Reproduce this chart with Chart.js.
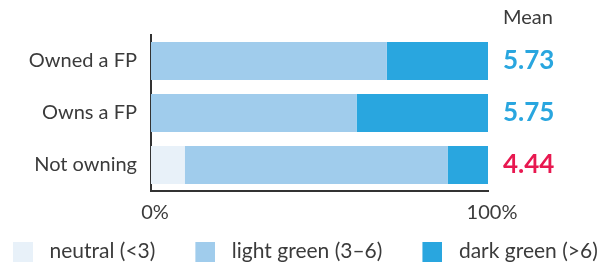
<!DOCTYPE html>
<html><head><meta charset="utf-8">
<script src="https://cdn.jsdelivr.net/npm/chart.js@4/dist/chart.umd.min.js"></script>
<style>html,body{margin:0;padding:0;background:#fff;overflow:hidden}</style>
</head><body>
<canvas id="c" width="606" height="265"></canvas>
<script>
const categories = ['Owned a FP', 'Owns a FP', 'Not owning'];
const seriesNames = ['neutral (<3)', 'light green (3–6)', 'dark green (>6)'];
const neutralShare = [0, 0, 10];
const lightShare = [70, 61, 78];
const darkShare = [30, 39, 12];
const meanLabels = ['5.73', '5.75', '4.44'];
const meanTitle = 'Mean';
const xTickValues = [0, 100];

const seriesColors = ['#e8f1f9', '#a0ccec', '#29a6df'];
const meanColors = ['#29a6df', '#29a6df', '#e81850'];
const textColor = '#3b3b3b';
const axisColor = '#333333';
const FONT = 'Lato';

function legendSwatch(color) {
  const c = document.createElement('canvas');
  c.width = 44; c.height = 20;
  const g = c.getContext('2d');
  g.fillStyle = color;
  g.fillRect(24, 0, 20, 20);
  return c;
}

const meanTitlePlugin = {
  id: 'meanTitle',
  afterDraw(chart) {
    const s = chart.scales.yMean;
    const ctx = chart.ctx;
    ctx.save();
    ctx.font = '20px ' + FONT;
    ctx.fillStyle = textColor;
    ctx.textAlign = 'left';
    ctx.textBaseline = 'middle';
    ctx.fillText(meanTitle, s.left + s.options.ticks.padding, chart.chartArea.top - 17);
    ctx.restore();
  }
};

const seriesData = [neutralShare, lightShare, darkShare];

new Chart(document.getElementById('c'), {
  type: 'bar',
  data: {
    labels: categories,
    datasets: seriesNames.map((name, i) => ({
      label: name,
      data: seriesData[i],
      backgroundColor: seriesColors[i],
      borderWidth: 0,
      barPercentage: 0.73,
      categoryPercentage: 1,
      xAxisID: 'x',
      yAxisID: 'y'
    }))
  },
  options: {
    indexAxis: 'y',
    responsive: false,
    animation: false,
    devicePixelRatio: 1,
    layout: { padding: { left: -27, right: -60, top: 35, bottom: -7 } },
    plugins: {
      tooltip: { enabled: false },
      legend: {
        position: 'bottom',
        align: 'start',
        labels: {
          usePointStyle: true,
          pointStyleWidth: 56,
          padding: 10,
          color: textColor,
          font: { family: FONT, size: 21 },
          generateLabels: chart => chart.data.datasets.map((ds, i) => ({
            text: ds.label,
            pointStyle: legendSwatch(ds.backgroundColor),
            fillStyle: ds.backgroundColor,
            strokeStyle: 'rgba(0,0,0,0)',
            lineWidth: 0,
            hidden: false,
            datasetIndex: i,
            fontColor: textColor
          }))
        }
      }
    },
    scales: {
      x: {
        stacked: true,
        min: 0,
        max: 100,
        z: 1,
        afterBuildTicks: s => { s.ticks = xTickValues.map(v => ({ value: v })); },
        ticks: {
          callback: v => v + '%',
          color: textColor,
          font: { family: FONT, size: 20 },
          padding: 10,
          labelOffset: 4,
          autoSkip: false
        },
        grid: { display: false, drawTicks: false },
        border: { display: true, color: axisColor, width: 2 },
        afterFit: s => { s.height = 40; }
      },
      y: {
        stacked: true,
        z: 1,
        grid: { display: false, drawTicks: false },
        border: { display: true, color: axisColor, width: 2 },
        ticks: { color: textColor, font: { family: FONT, size: 20 }, padding: 14 },
        afterFit: s => { s.width = 178; }
      },
      yMean: {
        type: 'category',
        labels: meanLabels,
        position: 'right',
        grid: { display: false, drawTicks: false },
        border: { display: false },
        ticks: {
          color: c => meanColors[c.index],
          font: { family: FONT, size: 26, weight: 'bold' },
          padding: 15
        },
        afterFit: s => { s.width = 178; }
      }
    }
  },
  plugins: [meanTitlePlugin]
});
</script>
</body></html>
